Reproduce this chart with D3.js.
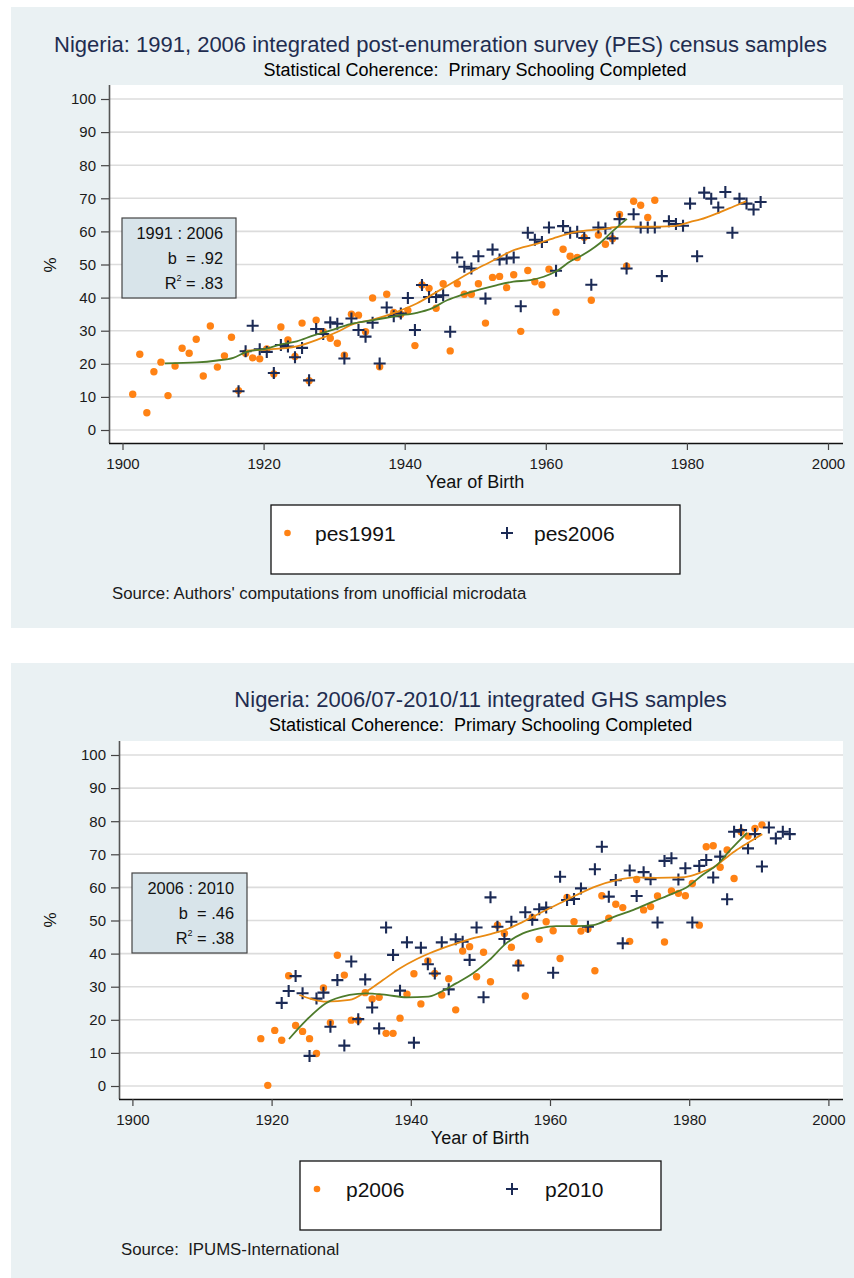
<!DOCTYPE html>
<html>
<head>
<meta charset="utf-8">
<script src="https://cdn.jsdelivr.net/npm/d3@7"></script>
<style>
  html, body { margin: 0; padding: 0; background: #ffffff; }
  svg text { font-family: "Liberation Sans", Arial, sans-serif; white-space: pre; }
</style>
</head>
<body>
<svg id="chart" width="854" height="1278"></svg>
<script>
// ---------------- DATA ----------------
const yTicks = [0, 10, 20, 30, 40, 50, 60, 70, 80, 90, 100];
const xTicks = [1900, 1920, 1940, 1960, 1980, 2000];

// Panel 1: PES census samples (% primary schooling completed by year of birth)
const pes1991Start = 1901;
const pes1991 = [10.8, 22.9, 5.2, 17.6, 20.5, 10.4, 19.3, 24.7, 23.2, 27.4,
  16.3, 31.4, 19.0, 22.4, 28.0, 11.9, 23.2, 21.8, 21.5, 24.5,
  16.9, 31.1, 27.2, 22.2, 32.3, 14.9, 33.2, 29.7, 27.7, 26.2,
  22.6, 35.0, 34.7, 29.7, 39.9, 19.1, 41.0, 35.5, 35.0, 36.1,
  25.5, 43.8, 42.8, 36.8, 44.2, 23.9, 44.2, 41.0, 41.0, 44.2,
  32.3, 46.1, 46.4, 43.0, 46.9, 29.8, 48.2, 44.8, 43.9, 48.6,
  35.6, 54.6, 52.5, 52.1, 58.2, 39.2, 58.9, 56.1, 57.8, 65.1,
  49.5, 69.1, 67.9, 64.2, 69.4];
const pes2006Start = 1916;
const pes2006 = [11.7, 23.8, 31.5, 24.4, 23.6, 17.2, 25.7, 25.2, 22.0, 24.8,
  15.0, 30.5, 29.0, 32.5, 32.1, 21.6, 33.7, 30.2, 28.2, 32.4,
  20.1, 37.0, 34.4, 35.2, 39.9, 30.2, 43.8, 40.2, 40.2, 40.7,
  29.7, 52.1, 49.3, 48.8, 52.5, 39.7, 54.5, 51.5, 51.8, 52.1,
  37.4, 59.6, 57.5, 56.8, 61.2, 48.1, 61.6, 59.6, 59.9, 58.0,
  43.9, 61.2, 60.9, 57.9, 63.7, 48.8, 65.2, 61.2, 61.2, 61.2,
  46.5, 63.1, 62.2, 61.7, 68.4, 52.5, 71.7, 69.9, 67.2, 71.9,
  59.6, 69.9, 68.4, 66.6, 68.9];
// smoothed curves: [year, %]
const pesFitOrange = [[1917.5,24.0],[1920.4,24.3],[1924.7,25.3],[1928.0,27.6],[1930.8,30.0],[1932.3,31.7],
  [1935.6,33.4],[1938.9,35.7],[1941.7,38.2],[1944.6,41.8],[1947.4,45.3],[1950.3,48.8],[1953.1,51.8],
  [1955.4,54.3],[1958.8,56.3],[1961.6,58.3],[1964.5,59.9],[1967.7,60.6],[1970.6,61.4],[1974.3,61.4],
  [1978.1,61.6],[1980.5,62.9],[1981.9,63.6],[1984.8,65.9],[1986.7,67.6],[1988.4,69.1]];
const pesFitGreen = [[1906.0,20.1],[1910.5,20.4],[1913.4,21.0],[1915.7,21.8],[1917.6,23.6],[1920.4,24.6],
  [1922.3,25.8],[1924.7,26.8],[1927.1,28.6],[1929.4,30.0],[1932.3,32.0],[1935.6,33.2],[1938.9,34.5],
  [1941.7,35.4],[1943.6,36.5],[1946.0,39.2],[1948.3,41.0],[1950.7,42.5],[1953.1,43.8],[1955.4,44.8],
  [1957.8,45.3],[1959.7,46.3],[1961.6,48.1],[1963.5,51.0],[1964.9,52.5],[1966.3,54.3],[1967.7,56.5],
  [1969.6,60.3],[1971.5,63.8]];

// Panel 2: GHS samples
const p2006Start = 1918;
const p2006 = [14.3, 0.2, 16.8, 13.8, 33.3, 18.3, 16.5, 14.3, 9.8, 29.6,
  19.1, 39.5, 33.5, 19.9, 19.9, 28.2, 26.3, 26.8, 15.9, 15.9,
  20.5, 27.7, 33.9, 24.8, 37.8, 34.0, 27.5, 32.4, 23.0, 40.8,
  42.1, 33.0, 40.4, 31.5, 48.6, 46.1, 41.9, 37.1, 27.2, 50.9,
  44.3, 49.6, 46.9, 38.5, 57.0, 49.6, 46.8, 47.4, 34.8, 57.5,
  50.7, 54.9, 53.9, 43.7, 62.4, 53.2, 54.2, 57.4, 43.5, 58.9,
  58.2, 57.5, 61.2, 48.6, 72.3, 72.6, 66.1, 71.3, 62.7, 76.8,
  75.5, 77.8, 78.9];
const p2010Start = 1921;
const p2010 = [25.1, 28.7, 33.2, 28.0, 9.1, 26.4, 28.2, 17.9, 32.0, 12.2,
  37.6, 20.2, 32.2, 23.7, 17.4, 47.9, 39.6, 28.8, 43.4, 13.1,
  41.8, 36.8, 34.0, 43.4, 29.2, 44.3, 43.6, 38.1, 47.9, 26.8,
  57.0, 48.1, 44.4, 49.6, 36.4, 52.5, 50.2, 53.4, 53.9, 34.2,
  63.2, 56.2, 56.5, 59.7, 48.1, 65.5, 72.3, 57.2, 62.2, 43.1,
  65.1, 57.4, 64.6, 62.5, 49.4, 68.0, 68.8, 62.4, 65.8, 49.4,
  66.5, 68.3, 63.0, 69.3, 56.4, 76.8, 77.3, 71.8, 76.1, 66.3,
  78.1, 74.8, 76.8, 76.1];
const ghsFitOrange = [[1924.0,27.5],[1925.9,26.2],[1927.8,25.5],[1931.2,26.0],[1933.6,28.5],[1936.0,32.0],
  [1938.4,35.5],[1940.8,38.3],[1942.7,40.1],[1945.6,42.4],[1948.5,44.4],[1951.3,45.8],[1953.7,47.3],
  [1956.1,49.6],[1959.0,52.7],[1961.4,55.2],[1963.8,57.7],[1966.7,60.4],[1969.6,62.2],[1972.4,63.0],
  [1975.3,62.9],[1978.7,63.0],[1980.1,63.4],[1982.0,64.8],[1983.5,66.1],[1984.9,68.3],[1986.8,71.3],
  [1988.7,73.8],[1990.5,76.1]];
const ghsFitGreen = [[1922.5,14.2],[1925.0,19.9],[1927.8,25.0],[1931.2,27.5],[1933.6,28.0],[1936.5,27.5],
  [1939.4,26.8],[1942.5,27.0],[1944.1,28.2],[1946.5,31.0],[1948.9,34.0],[1951.3,38.1],[1953.7,43.1],
  [1956.1,46.1],[1958.5,47.6],[1960.9,48.3],[1963.8,48.3],[1966.2,48.6],[1969.1,51.0],[1972.0,53.2],
  [1974.8,55.7],[1977.7,58.2],[1979.6,60.0],[1982.0,63.9],[1984.0,66.8],[1985.9,71.3],[1988.3,76.5]];

// ---------------- STYLE ----------------
const C = {
  panel: "#eaf1f3", grid: "#dcdcdc", orange: "#ff8214", navy: "#1b2a55",
  lineOrange: "#e98a12", lineGreen: "#4d7b2b", title: "#1f2d50", box: "#d8e4ea"
};
const XOFF = 0.45; // markers sit at the middle of each birth year

const svg = d3.select("#chart");
svg.append("rect").attr("width", 854).attr("height", 1278).attr("fill", "#fff");

function toPts(start, arr) { return arr.map((v, i) => ({ year: start + i, v })); }

function panel(cfg) {
  const g = svg.append("g");
  g.append("rect").attr("x", 11).attr("y", cfg.panelTop).attr("width", 843)
    .attr("height", cfg.panelBottom - cfg.panelTop).attr("fill", C.panel);
  g.append("rect").attr("x", cfg.axisX).attr("y", cfg.plotTop).attr("width", 843 - cfg.axisX)
    .attr("height", cfg.axisY - cfg.plotTop).attr("fill", "#fff");

  const x = d3.scaleLinear().domain([1900, 2000]).range(cfg.xr);
  const y = d3.scaleLinear().domain([0, 100]).range(cfg.yr);

  // gridlines
  g.selectAll(".grid").data(yTicks).join("line")
    .attr("x1", cfg.axisX).attr("x2", 843)
    .attr("y1", d => y(d)).attr("y2", d => y(d))
    .attr("stroke", C.grid).attr("stroke-width", 1.6);

  // y axis
  const ya = g.append("g").attr("transform", `translate(${cfg.axisX},0)`)
    .call(d3.axisLeft(y).tickValues(yTicks).tickSize(8).tickPadding(5).tickSizeOuter(0));
  ya.select(".domain").attr("stroke", "#555").attr("stroke-width", 1.6)
    .attr("d", `M0.5,${cfg.plotTop}V${cfg.axisY}`);
  ya.selectAll(".tick line").attr("stroke", "#444").attr("stroke-width", 1.2);
  ya.selectAll(".tick text").attr("font-size", 15).attr("fill", "#1a1a1a")
    .attr("font-family", "Liberation Sans, Arial, sans-serif");

  // x axis
  const xa = g.append("g").attr("transform", `translate(0,${cfg.axisY})`)
    .call(d3.axisBottom(x).tickValues(xTicks).tickFormat(d3.format("d")).tickSize(7).tickPadding(8).tickSizeOuter(0));
  xa.select(".domain").attr("stroke", "#111").attr("stroke-width", 1.6)
    .attr("d", `M${cfg.axisX},0.5H843`);
  xa.selectAll(".tick line").attr("stroke", "#444").attr("stroke-width", 1.2);
  xa.selectAll(".tick text").attr("font-size", 15).attr("fill", "#1a1a1a")
    .attr("font-family", "Liberation Sans, Arial, sans-serif");

  // axis titles
  g.append("text").attr("x", cfg.xTitleX).attr("y", cfg.axisY + 45).attr("text-anchor", "middle")
    .attr("font-size", 18).attr("fill", "#111").text("Year of Birth");
  g.append("text").attr("transform", `translate(56,${cfg.pctY}) rotate(-90)`).attr("text-anchor", "middle")
    .attr("font-size", 17).attr("fill", "#111").text("%");

  // titles
  g.append("text").attr("x", cfg.titleX).attr("y", cfg.titleY).attr("text-anchor", "middle")
    .attr("font-size", 22).attr("fill", C.title).text(cfg.title);
  g.append("text").attr("x", cfg.subX).attr("y", cfg.titleY + 24).attr("text-anchor", "middle")
    .attr("font-size", 18).attr("fill", "#000").text("Statistical Coherence:  Primary Schooling Completed");

  const plot = g.append("g");
  // scatter: orange dots
  plot.selectAll(".dot").data(toPts(cfg.aStart, cfg.a)).join("circle")
    .attr("cx", d => x(d.year + XOFF)).attr("cy", d => y(d.v)).attr("r", 3.7).attr("fill", C.orange);
  // scatter: navy plus
  plot.selectAll(".plus").data(toPts(cfg.bStart, cfg.b)).join("path")
    .attr("transform", d => `translate(${x(d.year + XOFF)},${y(d.v)})`)
    .attr("d", "M-6,0H6M0,-6V6").attr("stroke", C.navy).attr("stroke-width", 2.1).attr("fill", "none");

  const line = d3.line().x(d => x(d[0])).y(d => y(d[1])).curve(d3.curveMonotoneX);
  plot.append("path").attr("d", line(cfg.fitOrange)).attr("fill", "none")
    .attr("stroke", C.lineOrange).attr("stroke-width", 1.8);
  plot.append("path").attr("d", line(cfg.fitGreen)).attr("fill", "none")
    .attr("stroke", C.lineGreen).attr("stroke-width", 1.8);

  // annotation box
  const b = cfg.box;
  g.append("rect").attr("x", b.x).attr("y", b.y).attr("width", b.w).attr("height", 80)
    .attr("fill", C.box).attr("stroke", "#444").attr("stroke-width", 1.2);
  const tx = b.x + b.w - 13;
  g.append("text").attr("x", tx).attr("y", b.y + 21).attr("text-anchor", "end")
    .attr("font-size", 16.4).attr("fill", "#111").text(b.label);
  g.append("text").attr("x", tx).attr("y", b.y + 46).attr("text-anchor", "end")
    .attr("font-size", 16.4).attr("fill", "#111").text("b  = " + b.b);
  const r2 = g.append("text").attr("x", tx).attr("y", b.y + 71).attr("text-anchor", "end")
    .attr("font-size", 16.4).attr("fill", "#111");
  r2.append("tspan").text("R");
  r2.append("tspan").attr("font-size", 9).attr("dy", -8).text("2");
  r2.append("tspan").attr("dy", 8).text(" = " + b.r2);

  // legend
  const L = cfg.legend;
  g.append("rect").attr("x", L.x).attr("y", L.y).attr("width", L.w).attr("height", 69)
    .attr("fill", "#fff").attr("stroke", "#111").attr("stroke-width", 1.3);
  const cy = L.y + 28;
  g.append("circle").attr("cx", L.dotX).attr("cy", cy).attr("r", 3.3).attr("fill", C.orange);
  g.append("text").attr("x", L.t1X).attr("y", cy + 8).attr("font-size", 21).attr("fill", "#111").text(L.n1);
  g.append("path").attr("transform", `translate(${L.plusX},${cy})`).attr("d", "M-6,0H6M0,-6V6")
    .attr("stroke", C.navy).attr("stroke-width", 2);
  g.append("text").attr("x", L.t2X).attr("y", cy + 8).attr("font-size", 21).attr("fill", "#111").text(L.n2);

  // source
  g.append("text").attr("x", cfg.srcX).attr("y", cfg.srcY).attr("font-size", 16.8)
    .attr("fill", "#1a1a1a").text(cfg.source);
}

panel({
  panelTop: 7, panelBottom: 628, plotTop: 85, axisY: 443, axisX: 109,
  xr: [122.5, 828], yr: [430, 99],
  title: "Nigeria: 1991, 2006 integrated post-enumeration survey (PES) census samples",
  titleX: 440.5, subX: 475, titleY: 52, xTitleX: 475, pctY: 265,
  aStart: pes1991Start, a: pes1991, bStart: pes2006Start, b: pes2006,
  fitOrange: pesFitOrange, fitGreen: pesFitGreen,
  box: { x: 122, y: 218, w: 114, label: "1991 : 2006", b: ".92", r2: ".83" },
  legend: { x: 271, y: 505, w: 409, dotX: 287.5, t1X: 315, plusX: 507, t2X: 534, n1: "pes1991", n2: "pes2006" },
  srcX: 112, srcY: 599, source: "Source: Authors' computations from unofficial microdata"
});

panel({
  panelTop: 663, panelBottom: 1278, plotTop: 741, axisY: 1099, axisX: 119,
  xr: [132.4, 828.4], yr: [1086, 755],
  title: "Nigeria: 2006/07-2010/11 integrated GHS samples",
  titleX: 480.6, subX: 480.6, titleY: 707, xTitleX: 480, pctY: 920,
  aStart: p2006Start, a: p2006, bStart: p2010Start, b: p2010,
  fitOrange: ghsFitOrange, fitGreen: ghsFitGreen,
  box: { x: 132, y: 873, w: 115, label: "2006 : 2010", b: ".46", r2: ".38" },
  legend: { x: 300, y: 1161, w: 361, dotX: 317, t1X: 346, plusX: 512, t2X: 545, n1: "p2006", n2: "p2010" },
  srcX: 121, srcY: 1255, source: "Source:  IPUMS-International"
});
</script>
</body>
</html>
